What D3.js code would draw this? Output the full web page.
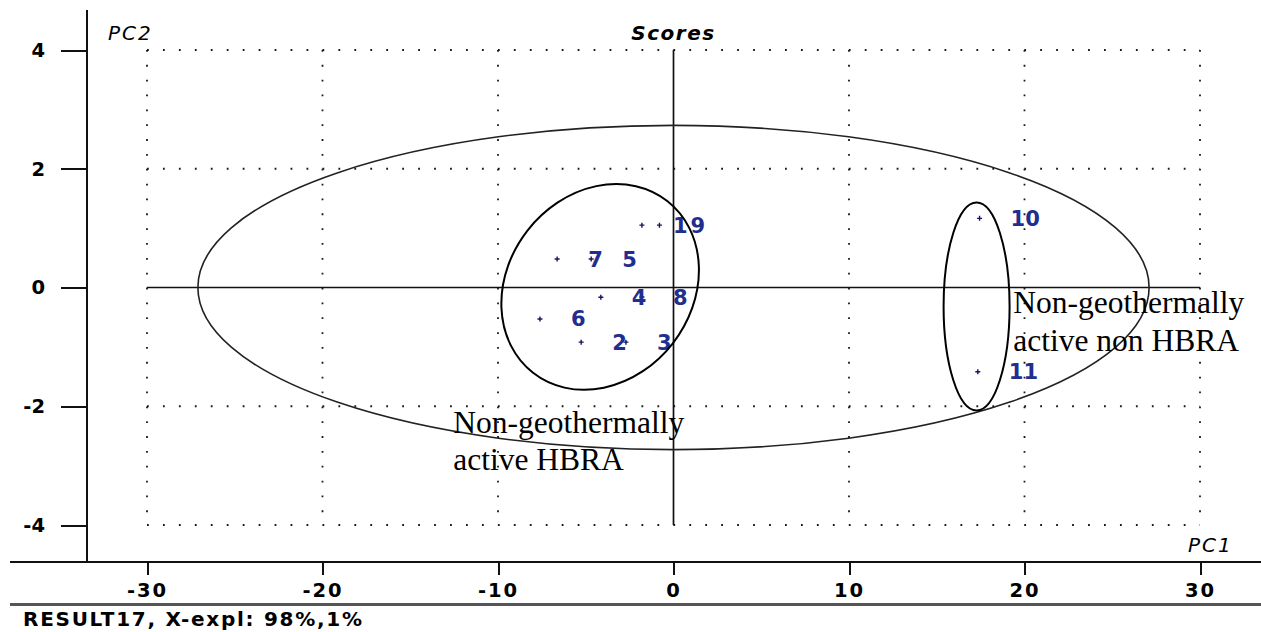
<html>
<head>
<meta charset="utf-8">
<title>Scores</title>
<script src="https://d3js.org/d3.v7.min.js"></script>
</head>
<style>
body {
    margin: 0;
    background: #fff;
}
.tick text {
    font-family: 'DejaVu Sans', sans-serif;
    font-weight: bold;
    font-size: 19.5px;
    fill: #000;
}
</style>
<body>
<svg id="svg" width="1261" height="632" style="background: #fff;"></svg>
<script>
// sample names + scores
const sampleNames = ["1", "2", "3", "4", "5", "6", "7", "8", "9", "10", "11"];
const pc1Scores = [-1.80, -5.26, -2.71, -4.14, -4.69, -7.61, -6.63, -1.80, -0.80, 17.44, 17.34];
const pc2Scores = [1.05, -0.92, -0.92, -0.165, 0.48, -0.53, 0.48, -0.16, 1.05, 1.165, -1.42];

// axis ticks
const xTicks = [-30, -20, -10, 0, 10, 20, 30];
const yTicks = [-4, -2, 0, 2, 4];
const xGridLines = [-30, -20, -10, 10, 20, 30];
const yGridLines = [-4, -2, 2, 4];

// hotelling ellipse half widths (pc1, pc2)
const ellipseHalf = [27.1, 2.73];

// hand drawn groups
const groupText = [["Non-geothermally", "active HBRA"], ["Non-geothermally", "active non HBRA"]];

var svg = d3.select('svg');

//scales
var x = d3.scaleLinear().domain([-30, 30]).range([147, 1200]);
var y = d3.scaleLinear().domain([-4, 4]).range([525, 50]);

var g = svg.append('g');

//dotted grid
g.selectAll('.hgrid').data(yGridLines).enter().append('line')
    .attr('x1', x(-30)).attr('x2', x(30))
    .attr('y1', d => y(d)).attr('y2', d => y(d))
    .attr('stroke', '#1a1a1a').attr('stroke-width', 1.8)
    .attr('stroke-dasharray', '1.8,14.15');

g.selectAll('.vgrid').data(xGridLines).enter().append('line')
    .attr('x1', d => x(d)).attr('x2', d => x(d))
    .attr('y1', y(4)).attr('y2', y(-4))
    .attr('stroke', '#1a1a1a').attr('stroke-width', 1.8)
    .attr('stroke-dasharray', '1.8,13.05');

//solid zero lines
g.append('line')
    .attr('x1', x(-30)).attr('x2', x(30))
    .attr('y1', y(0)).attr('y2', y(0))
    .attr('stroke', '#111').attr('stroke-width', 1.7);
g.append('line')
    .attr('x1', x(0)).attr('x2', x(0))
    .attr('y1', y(4)).attr('y2', y(-4))
    .attr('stroke', '#111').attr('stroke-width', 1.7);

//big ellipse
g.append('ellipse')
    .attr('cx', x(0)).attr('cy', y(0))
    .attr('rx', x(ellipseHalf[0]) - x(0))
    .attr('ry', y(0) - y(ellipseHalf[1]))
    .attr('fill', 'none').attr('stroke', '#222').attr('stroke-width', 1.6);

//points
var pts = sampleNames.map((n, i) => ({ name: n, px: x(pc1Scores[i]), py: y(pc2Scores[i]) }));

g.selectAll('.pt').data(pts).enter().append('path')
    .attr('d', d => `M${d.px - 2.5},${d.py}h5M${d.px},${d.py - 2.5}v5`)
    .attr('stroke', '#141460').attr('stroke-width', 1.4);

g.selectAll('.lbl').data(pts).enter().append('text')
    .attr('x', d => d.px + 31)
    .attr('y', d => d.py + 7.5)
    .attr('font-family', 'DejaVu Sans, sans-serif')
    .attr('font-weight', 'bold')
    .attr('font-size', '21px')
    .attr('fill', '#1f2e8f')
    .text(d => d.name);

//group circles drawn by hand on top
g.append('ellipse')
    .attr('cx', 0).attr('cy', 0).attr('rx', 109).attr('ry', 92)
    .attr('transform', `translate(${x(-4.18)},${y(0.01)}) rotate(-52)`)
    .attr('fill', 'none').attr('stroke', '#000').attr('stroke-width', 2);
g.append('ellipse')
    .attr('cx', x(17.27)).attr('cy', y(-0.32))
    .attr('rx', 33).attr('ry', 104)
    .attr('fill', 'none').attr('stroke', '#000').attr('stroke-width', 2);

//group labels
var groupPos = [[-12.55, -2.45], [19.36, -0.43]];
groupText.forEach((lines, i) => {
    var t = g.append('text')
        .attr('x', x(groupPos[i][0]))
        .attr('y', y(groupPos[i][1]))
        .attr('font-family', 'Liberation Serif, Times New Roman, serif')
        .attr('font-size', '31.5px')
        .attr('fill', '#000');
    lines.forEach((l, j) => {
        t.append('tspan').attr('x', x(groupPos[i][0])).attr('dy', j == 0 ? 0 : 37.5).text(l);
    });
});

//y axis
var yAxis = svg.append('g').attr('transform', 'translate(87,0)');
yAxis.call(d3.axisLeft(y).tickValues(d3.range(-4, 4.01, 0.5)).tickSize(10).tickFormat(''));
yAxis.call(d3.axisLeft(y).tickValues(yTicks).tickSize(26).tickPadding(16).tickFormat(d => String(d)));
yAxis.selectAll('.domain').remove();
yAxis.selectAll('line').attr('stroke', '#111').attr('stroke-width', 2).attr('shape-rendering', 'crispEdges');
svg.append('line')
    .attr('x1', 87).attr('x2', 87).attr('y1', 10).attr('y2', 562)
    .attr('stroke', '#111').attr('stroke-width', 2).attr('shape-rendering', 'crispEdges');

//x axis
var xAxis = svg.append('g').attr('transform', 'translate(0,562)');
xAxis.call(d3.axisBottom(x).tickValues(d3.range(-30, 31, 1)).tickSize(7).tickFormat(''));
xAxis.call(d3.axisBottom(x).tickValues(xTicks).tickSize(13).tickPadding(8).tickFormat(d => String(d)));
xAxis.selectAll('.domain').remove();
xAxis.selectAll('line').attr('stroke', '#111').attr('stroke-width', 2).attr('shape-rendering', 'crispEdges');
xAxis.selectAll('text').attr('letter-spacing', '2px');
svg.append('line')
    .attr('x1', 10).attr('x2', 1261).attr('y1', 562).attr('y2', 562)
    .attr('stroke', '#111').attr('stroke-width', 2).attr('shape-rendering', 'crispEdges');
svg.append('line')
    .attr('x1', 10).attr('x2', 1261).attr('y1', 604).attr('y2', 604)
    .attr('stroke', '#555').attr('stroke-width', 3).attr('shape-rendering', 'crispEdges');

//titles
svg.append('text')
    .attr('x', x(0)).attr('y', 40)
    .attr('text-anchor', 'middle')
    .attr('font-family', 'DejaVu Sans, sans-serif')
    .attr('font-weight', 'bold').attr('font-style', 'italic')
    .attr('font-size', '20px').attr('letter-spacing', '1.5px')
    .text('Scores');

svg.append('text')
    .attr('x', 108).attr('y', 40)
    .attr('font-family', 'DejaVu Sans, sans-serif')
    .attr('font-style', 'italic')
    .attr('font-size', '20px').attr('letter-spacing', '2px')
    .text('PC2');

svg.append('text')
    .attr('x', 1188).attr('y', 552)
    .attr('font-family', 'DejaVu Sans, sans-serif')
    .attr('font-style', 'italic')
    .attr('font-size', '20px').attr('letter-spacing', '2px')
    .text('PC1');

svg.append('text')
    .attr('x', 23).attr('y', 626)
    .attr('font-family', 'DejaVu Sans, sans-serif')
    .attr('font-weight', 'bold')
    .attr('font-size', '20px')
    .attr('textLength', 339).attr('lengthAdjust', 'spacing')
    .text('RESULT17, X-expl: 98%,1%');
</script>
</body>
</html>
